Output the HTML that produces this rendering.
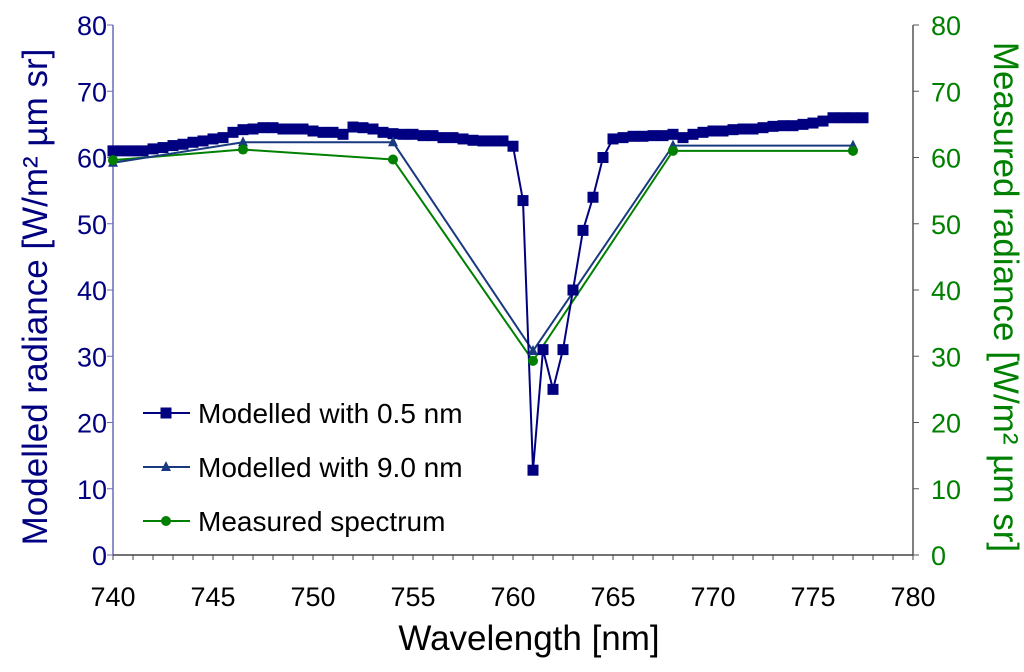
<!DOCTYPE html>
<html><head><meta charset="utf-8"><style>
body{margin:0;background:#fff;}
svg{display:block;font-family:"Liberation Sans",Arial,sans-serif;}
</style></head><body>
<svg id="chart" width="1024" height="672">
<g id="axes"></g><g id="series"></g><g id="legend"></g>
</svg>
<script>
const wl05 = [740,740.5,741,741.5,742,742.5,743,743.5,744,744.5,745,745.5,746,746.5,747,747.5,748,748.5,749,749.5,750,750.5,751,751.5,752,752.5,753,753.5,754,754.5,755,755.5,756,756.5,757,757.5,758,758.5,759,759.5,760,760.5,761,761.5,762,762.5,763,763.5,764,764.5,765,765.5,766,766.5,767,767.5,768,768.5,769,769.5,770,770.5,771,771.5,772,772.5,773,773.5,774,774.5,775,775.5,776,776.5,777,777.5];
const mod05 = [61,61,61,61,61.3,61.5,61.8,62,62.3,62.5,62.8,63,63.8,64.2,64.3,64.5,64.5,64.3,64.3,64.3,64,63.8,63.8,63.5,64.6,64.5,64.3,63.8,63.6,63.5,63.5,63.3,63.3,63,63,62.8,62.6,62.5,62.5,62.5,61.7,53.5,12.8,31,25,31,40,49,54,60,62.8,63,63.2,63.2,63.3,63.3,63.5,63,63.5,63.8,64,64,64.2,64.3,64.3,64.5,64.7,64.8,64.8,65,65.2,65.5,66,66,66,66];
const wl90 = [740,746.5,754,761,768,777];
const mod90 = [59.2,62.3,62.3,30.8,61.8,61.8];
const wlMeas = [740,746.5,754,761,768,777];
const meas = [59.6,61.2,59.7,29.3,61,61];
const xTicks = [740,745,750,755,760,765,770,775,780];
const yTicks = [0,10,20,30,40,50,60,70,80];

const NS="http://www.w3.org/2000/svg";
const X0=113,X1=913,Y0=555,Y1=25;
const xs=v=>X0+(v-740)/40*(X1-X0);
const ys=v=>Y0-v/80*(Y0-Y1);
function mk(tag,attrs,parent,text){const e=document.createElementNS(NS,tag);for(const k in attrs)e.setAttribute(k,attrs[k]);if(text!==undefined)e.textContent=text;parent.appendChild(e);return e;}
const axes=document.getElementById('axes'),ser=document.getElementById('series'),leg=document.getElementById('legend');

let a=mk('line',{x1:X0,y1:Y1,x2:X0,y2:Y0,stroke:'#6a6ab8','stroke-width':1.5},axes);

a=mk('line',{x1:X1,y1:Y1,x2:X1,y2:Y0,stroke:'#555','stroke-width':1.5},axes);

a=mk('line',{x1:X0,y1:Y0,x2:X1,y2:Y0,stroke:'#444','stroke-width':1.5},axes);

for(let v=740;v<=780;v++){mk('line',{x1:xs(v),y1:Y0,x2:xs(v),y2:Y0+5,stroke:'#444','stroke-width':1},axes);}
xTicks.forEach(v=>{const t=mk('text',{x:xs(v),y:606,'text-anchor':'middle','font-size':27,fill:'#000'},axes,String(v));
});
yTicks.forEach(v=>{
mk('line',{x1:X0-6,y1:ys(v),x2:X0,y2:ys(v),stroke:'#6a6ab8'},axes);
mk('line',{x1:X1,y1:ys(v),x2:X1+6,y2:ys(v),stroke:'#555'},axes);
let t=mk('text',{x:X0-6,y:ys(v)+10,'text-anchor':'end','font-size':27,fill:'#000080'},axes,String(v));

t=mk('text',{x:X1+18,y:ys(v)+10,'text-anchor':'start','font-size':27,fill:'#008000'},axes,String(v));
});
let t=mk('text',{x:0,y:0,transform:'translate(47,297) rotate(-90)','text-anchor':'middle','font-size':35,fill:'#000080'},axes,'Modelled radiance [W/m² µm sr]');

t=mk('text',{x:0,y:0,transform:'translate(994,297) rotate(90)','text-anchor':'middle','font-size':35,fill:'#008000'},axes,'Measured radiance [W/m² µm sr]');

t=mk('text',{x:529,y:650,'text-anchor':'middle','font-size':35,fill:'#000'},axes,'Wavelength [nm]');


function line(xa,ya,color,name){const p=mk('polyline',{points:xa.map((x,i)=>xs(x)+','+ys(ya[i])).join(' '),fill:'none',stroke:color,'stroke-width':2},ser);
}
line(wlMeas,meas,'#008000','measured-line');
line(wl90,mod90,'#1a3a80','modelled-9nm-line');
line(wl05,mod05,'#000080','modelled-05nm-line');
function sq(x,y,g){return mk('rect',{x:x-5.5,y:y-5.5,width:11,height:11,fill:'#000080'},g);}
function tri(x,y,g){return mk('polygon',{points:`${x},${y-6} ${x-5},${y+4} ${x+5},${y+4}`,fill:'#1a3a80'},g);}
function dot(x,y,g){return mk('circle',{cx:x,cy:y,r:5,fill:'#008000'},g);}
wl05.forEach((w,i)=>{const m=sq(xs(w),ys(mod05[i]),ser);});
wl90.forEach((w,i)=>{const m=tri(xs(w),ys(mod90[i]),ser);});
wlMeas.forEach((w,i)=>{const m=dot(xs(w),ys(meas[i]),ser);});

const entries=[['Modelled with 0.5 nm','#000080',sq,413],['Modelled with 9.0 nm','#1a3a80',tri,467],['Measured spectrum','#008000',dot,521]];
entries.forEach(e=>{const g=mk('g',{},leg);

mk('line',{x1:143,y1:e[3],x2:190,y2:e[3],stroke:e[1],'stroke-width':2},g);e[2](166,e[3],g);
mk('text',{x:198,y:e[3]+10,'font-size':28,fill:'#000'},g,e[0]);});
</script>
</body></html>
